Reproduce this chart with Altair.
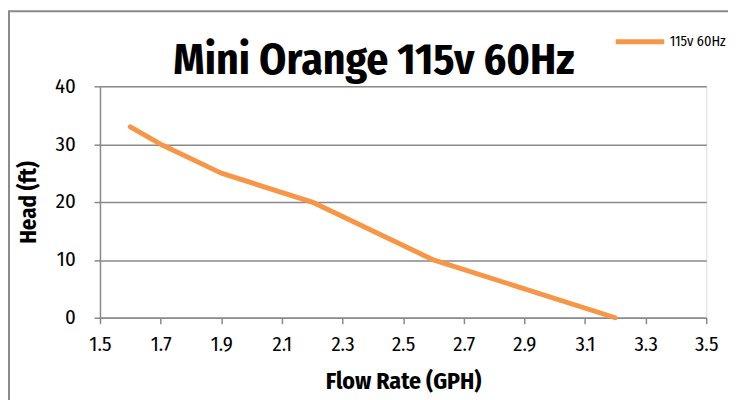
import altair as alt
import pandas as pd

flow = [1.6, 1.7, 1.9, 2.2, 2.6, 3.2]
head = [33, 30, 25, 20, 10, 0]
series = ["115v 60Hz"] * len(flow)
x_ticks = [1.5, 1.7, 1.9, 2.1, 2.3, 2.5, 2.7, 2.9, 3.1, 3.3, 3.5]
y_ticks = [0, 10, 20, 30, 40]
chart_title = "Mini Orange 115v 60Hz"

FONT = "Fira Sans Condensed"
ORANGE = "#F79646"
GRAY = "#898989"

df = pd.DataFrame({"flow": flow, "head": head, "series": series})

line = alt.Chart(df).mark_line(strokeWidth=5, strokeCap="round", strokeJoin="round").encode(
    x=alt.X("flow:Q", scale=alt.Scale(domain=[1.5, 3.5], nice=False, zero=False),
            axis=alt.Axis(values=x_ticks, format=".1f", title="Flow Rate (GPH)", grid=False,
                          labelFlush=False,
                          domainColor=GRAY, domainWidth=1.5, tickColor=GRAY, tickWidth=1.5, tickSize=6,
                          labelFont=FONT, labelFontSize=21, labelColor="#000", labelPadding=10,
                          titleFont=FONT, titleFontSize=24, titleFontWeight="bold", titleColor="#000",
                          titlePadding=16)),
    y=alt.Y("head:Q", scale=alt.Scale(domain=[0, 40], nice=False),
            axis=alt.Axis(values=y_ticks, title="Head (ft)", grid=True, gridColor=GRAY, gridWidth=1.5,
                          domainColor=GRAY, domainWidth=1.5, tickColor=GRAY, tickWidth=1.5, tickSize=6,
                          labelFont=FONT, labelFontSize=21, labelColor="#000", labelPadding=19,
                          titleFont=FONT, titleFontSize=23, titleFontWeight="bold", titleColor="#000",
                          titlePadding=14)),
    color=alt.Color("series:N", scale=alt.Scale(range=[ORANGE]),
                    legend=alt.Legend(title=None, orient="none", legendX=519, legendY=-72,
                                      symbolType="stroke", symbolSize=2400, symbolStrokeWidth=5,
                                      labelFont=FONT, labelFontSize=14.5, labelColor="#000",
                                      labelOffset=3)),
)

frame = alt.Chart(pd.DataFrame({"a": [0]})).mark_rect(
    fill=None, stroke="#8a8a8a", strokeWidth=2, clip=False
).encode(
    x=alt.value(-92), x2=alt.value(700), y=alt.value(-76), y2=alt.value(420)
)

title = alt.Chart(pd.DataFrame({"t": [chart_title]})).mark_text(
    font=FONT, fontSize=44, fontWeight="bold", color="#000", align="center", baseline="alphabetic"
).encode(text="t:N", x=alt.value(277), y=alt.value(-12))

chart = alt.layer(frame, line, title).properties(
    width=613, height=234,
    autosize=alt.AutoSizeParams(type="none"),
    padding={"left": 93, "top": 77, "right": 22, "bottom": 84},
).configure_view(stroke=None).configure(background="white")

chart.save("out.html", embed_options={"renderer": "svg", "actions": False})
